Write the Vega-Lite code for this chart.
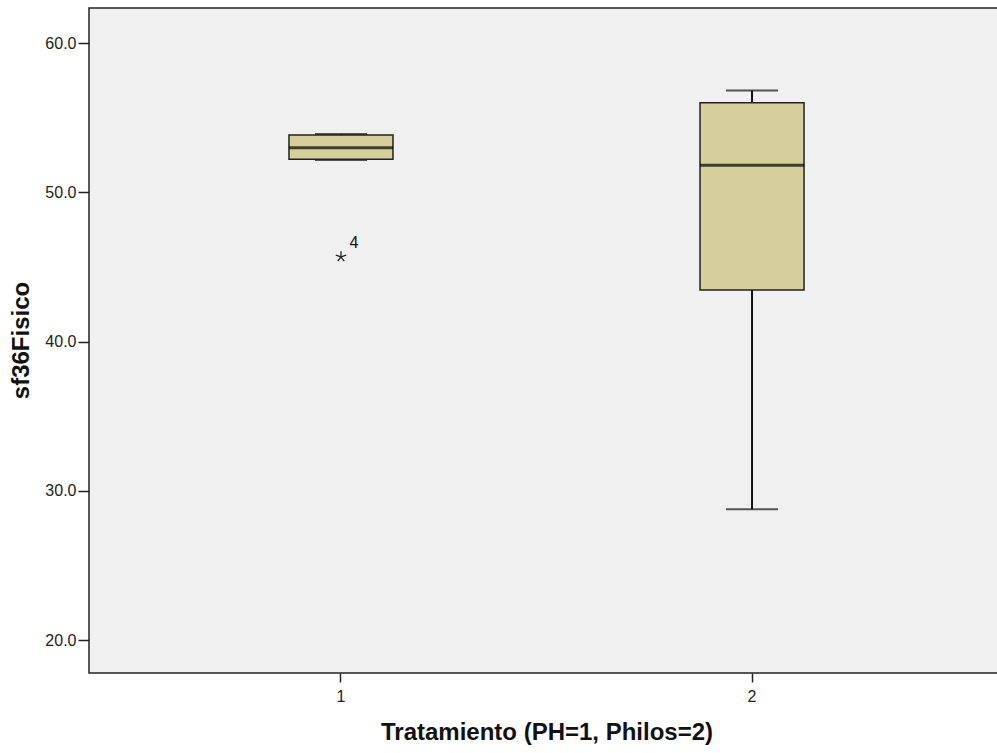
{
  "$schema": "https://vega.github.io/schema/vega-lite/v6.json",
  "width": 915,
  "height": 665,
  "autosize": {"type": "none"},
  "padding": {"left": 89, "top": 8, "right": 0, "bottom": 80},
  "background": "white",
  "config": {
    "font": "Liberation Sans",
    "view": {"fill": "#f0f0f0", "stroke": "#222222", "strokeWidth": 1.5}
  },
  "datasets": {
    "stats": [
      {"trat": "1", "lower": 52.16, "q1": 52.21, "median": 52.99, "q3": 53.84, "upper": 53.9},
      {"trat": "2", "lower": 28.76, "q1": 43.45, "median": 51.81, "q3": 56.0, "upper": 56.83}
    ],
    "outliers": [
      {"trat": "1", "value": 45.68, "label": "4"}
    ]
  },
  "encoding": {
    "x": {
      "field": "trat",
      "type": "nominal",
      "title": "Tratamiento (PH=1, Philos=2)",
      "scale": {"domain": ["1", "2"], "paddingInner": 0, "paddingOuter": 0.113},
      "axis": {
        "grid": false,
        "domain": false,
        "labelFont": "Liberation Sans",
        "labelFontSize": 16,
        "labelColor": "#222222",
        "labelAngle": 0,
        "labelPadding": 6,
        "tickSize": 9,
        "tickColor": "#222222",
        "tickWidth": 1.5,
        "titleFont": "Liberation Sans",
        "titleFontSize": 24,
        "titleFontWeight": "bold",
        "titleColor": "#111111",
        "titleY": 66,
        "titleBaseline": "alphabetic"
      }
    }
  },
  "layer": [
    {
      "data": {"name": "stats"},
      "mark": {"type": "rule", "color": "#111111", "strokeWidth": 2},
      "encoding": {
        "y": {
          "field": "lower",
          "type": "quantitative",
          "title": "sf36Fisico",
          "scale": {"domain": [17.79, 62.35], "nice": false, "zero": false},
          "axis": {
            "grid": false,
            "domain": false,
            "values": [20, 30, 40, 50, 60],
            "format": ".1f",
            "labelFont": "Liberation Sans",
            "labelFontSize": 16,
            "labelColor": "#222222",
            "labelPadding": 2,
            "tickSize": 11,
            "tickColor": "#222222",
            "tickWidth": 1.5,
            "titleFont": "Liberation Sans",
            "titleFontSize": 24,
            "titleFontWeight": "bold",
            "titleColor": "#111111",
            "titleX": -61,
            "titleY": 332,
            "titleAngle": -90,
            "titleAlign": "center",
            "titleBaseline": "alphabetic"
          }
        },
        "y2": {"field": "upper"}
      }
    },
    {
      "data": {"name": "stats"},
      "mark": {"type": "tick", "color": "#111111", "size": 52, "thickness": 2},
      "encoding": {
        "y": {"field": "lower", "type": "quantitative", "title": "sf36Fisico"}
      }
    },
    {
      "data": {"name": "stats"},
      "mark": {"type": "tick", "color": "#111111", "size": 52, "thickness": 2},
      "encoding": {
        "y": {"field": "upper", "type": "quantitative", "title": "sf36Fisico"}
      }
    },
    {
      "data": {"name": "stats"},
      "mark": {"type": "bar", "size": 104, "fill": "#d4cf9c", "stroke": "#222222", "strokeWidth": 1.5},
      "encoding": {
        "y": {"field": "q1", "type": "quantitative", "title": "sf36Fisico"},
        "y2": {"field": "q3"}
      }
    },
    {
      "data": {"name": "stats"},
      "mark": {"type": "tick", "color": "#000000", "size": 104, "thickness": 3},
      "encoding": {
        "y": {"field": "median", "type": "quantitative", "title": "sf36Fisico"}
      }
    },
    {
      "data": {"name": "outliers"},
      "mark": {
        "type": "point",
        "shape": "M0,0L0,-1M0,0L0.951,-0.309M0,0L0.588,0.809M0,0L-0.588,0.809M0,0L-0.951,-0.309",
        "size": 121,
        "filled": false,
        "stroke": "#222222",
        "strokeWidth": 1.3,
        "opacity": 1
      },
      "encoding": {
        "y": {"field": "value", "type": "quantitative", "title": "sf36Fisico"}
      }
    },
    {
      "data": {"name": "outliers"},
      "mark": {"type": "text", "fontSize": 16, "color": "#111111", "dx": 13, "dy": -14, "align": "center", "baseline": "middle"},
      "encoding": {
        "y": {"field": "value", "type": "quantitative", "title": "sf36Fisico"},
        "text": {"field": "label"}
      }
    }
  ]
}
